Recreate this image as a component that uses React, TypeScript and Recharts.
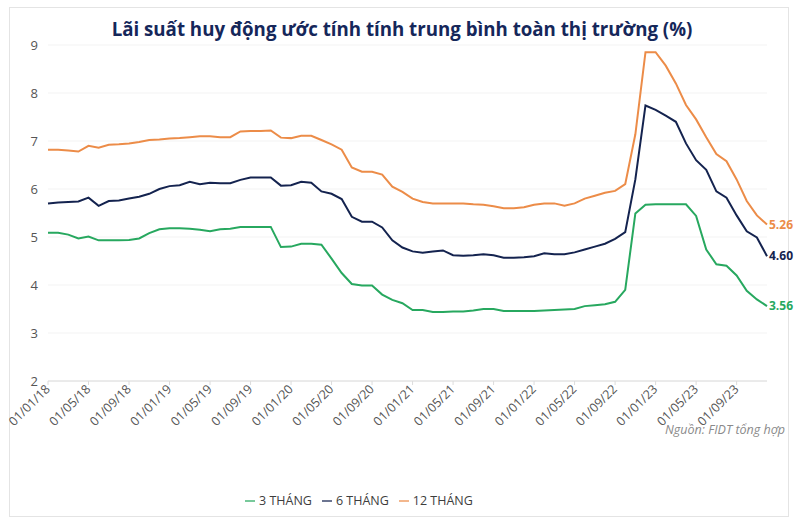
import { LineChart, Line, XAxis, YAxis, CartesianGrid, Legend, LabelList } from 'recharts'

// tháng đầu kỳ, 01/01/18 -> 01/12/23
const MONTHS = [
  '01/01/18', '01/02/18', '01/03/18', '01/04/18', '01/05/18', '01/06/18', '01/07/18', '01/08/18', '01/09/18', '01/10/18', '01/11/18', '01/12/18',
  '01/01/19', '01/02/19', '01/03/19', '01/04/19', '01/05/19', '01/06/19', '01/07/19', '01/08/19', '01/09/19', '01/10/19', '01/11/19', '01/12/19',
  '01/01/20', '01/02/20', '01/03/20', '01/04/20', '01/05/20', '01/06/20', '01/07/20', '01/08/20', '01/09/20', '01/10/20', '01/11/20', '01/12/20',
  '01/01/21', '01/02/21', '01/03/21', '01/04/21', '01/05/21', '01/06/21', '01/07/21', '01/08/21', '01/09/21', '01/10/21', '01/11/21', '01/12/21',
  '01/01/22', '01/02/22', '01/03/22', '01/04/22', '01/05/22', '01/06/22', '01/07/22', '01/08/22', '01/09/22', '01/10/22', '01/11/22', '01/12/22',
  '01/01/23', '01/02/23', '01/03/23', '01/04/23', '01/05/23', '01/06/23', '01/07/23', '01/08/23', '01/09/23', '01/10/23', '01/11/23', '01/12/23',
]

const RATE_3M = [
  5.09, 5.09, 5.05, 4.97, 5.01, 4.93, 4.93, 4.93, 4.94, 4.97, 5.08, 5.16,
  5.18, 5.18, 5.17, 5.15, 5.12, 5.16, 5.17, 5.21, 5.21, 5.21, 5.21, 4.79,
  4.80, 4.86, 4.86, 4.84, 4.55, 4.25, 4.02, 3.99, 3.99, 3.80, 3.69, 3.62,
  3.48, 3.48, 3.44, 3.44, 3.45, 3.45, 3.47, 3.50, 3.50, 3.46, 3.46, 3.46,
  3.46, 3.47, 3.48, 3.49, 3.50, 3.56, 3.58, 3.60, 3.65, 3.90, 5.49, 5.67,
  5.68, 5.68, 5.68, 5.68, 5.44, 4.74, 4.43, 4.40, 4.20, 3.88, 3.70, 3.56,
]

const RATE_6M = [
  5.70, 5.72, 5.73, 5.74, 5.82, 5.65, 5.75, 5.76, 5.80, 5.84, 5.90, 6.00,
  6.06, 6.08, 6.15, 6.10, 6.13, 6.12, 6.12, 6.19, 6.24, 6.24, 6.24, 6.07,
  6.08, 6.15, 6.13, 5.95, 5.90, 5.79, 5.42, 5.32, 5.32, 5.20, 4.93, 4.78,
  4.70, 4.67, 4.70, 4.72, 4.62, 4.61, 4.62, 4.64, 4.62, 4.57, 4.57, 4.58,
  4.60, 4.66, 4.64, 4.64, 4.68, 4.74, 4.80, 4.86, 4.96, 5.10, 6.20, 7.74,
  7.65, 7.53, 7.40, 6.95, 6.60, 6.40, 5.95, 5.82, 5.45, 5.12, 4.99, 4.60,
]

const RATE_12M = [
  6.82, 6.82, 6.80, 6.78, 6.90, 6.86, 6.92, 6.93, 6.95, 6.98, 7.02, 7.03,
  7.05, 7.06, 7.08, 7.10, 7.10, 7.08, 7.08, 7.20, 7.21, 7.21, 7.22, 7.07,
  7.06, 7.11, 7.11, 7.02, 6.93, 6.82, 6.45, 6.36, 6.36, 6.30, 6.05, 5.94,
  5.80, 5.73, 5.70, 5.70, 5.70, 5.70, 5.68, 5.67, 5.64, 5.60, 5.60, 5.62,
  5.67, 5.70, 5.70, 5.65, 5.70, 5.80, 5.86, 5.92, 5.96, 6.10, 7.14, 8.85,
  8.85, 8.57, 8.20, 7.75, 7.45, 7.08, 6.73, 6.58, 6.20, 5.75, 5.45, 5.26,
]

const Y_TICKS = [2, 3, 4, 5, 6, 7, 8, 9]
const SERIES_ORDER = ['m3', 'm6', 'm12']

const GREEN = '#27A85F'
const NAVY = '#14234F'
const ORANGE = '#EC8C48'
const FONT = '"Open Sans", Arial, sans-serif'

const data = MONTHS.map((month, i) => ({
  month,
  m3: RATE_3M[i],
  m6: RATE_6M[i],
  m12: RATE_12M[i],
}))

const LAST = MONTHS.length - 1

function endLabel(color: string) {
  return (props: any) => {
    const { x, y, index, value } = props
    if (index !== LAST) return null
    return (
      <text x={x + 2} y={y + 4} fill={color} fontSize={12} fontWeight={700} fontFamily={FONT}>
        {Number(value).toFixed(2)}
      </text>
    )
  }
}

function DateTick({ x, y, payload }: any) {
  return (
    <text
      x={x}
      y={y}
      transform={`rotate(-45, ${x}, ${y})`}
      textAnchor="end"
      dy={4}
      fill="#555"
      fontSize={12.5}
      fontFamily={FONT}
    >
      {payload.value}
    </text>
  )
}

export default function App() {
  return (
    <div style={{ position: 'relative', width: 800, height: 531, background: '#fff', fontFamily: FONT }}>
      <style>{'body{margin:0}'}</style>
      <div
        style={{
          position: 'absolute', left: 9, top: 7, width: 780, height: 510,
          border: '1px solid #e4e4e4', boxSizing: 'border-box',
        }}
      />
      <div
        style={{
          position: 'absolute', left: 0, top: 17, width: 804, textAlign: 'center',
          fontSize: 18.7, fontWeight: 700, color: '#15275A', lineHeight: '24px',
        }}
      >
        Lãi suất huy động ước tính tính trung bình toàn thị trường (%)
      </div>
      <div
        style={{
          position: 'absolute', right: 15, top: 421, fontSize: 12.5,
          fontStyle: 'italic', color: '#8a8a8a',
        }}
      >
        Nguồn: FIDT tổng hợp
      </div>

      <div style={{ position: 'absolute', left: 0, top: 0 }}>
        <LineChart width={800} height={531} data={data} margin={{ top: 45, right: 33, left: 8, bottom: 90 }}>
          <CartesianGrid vertical={false} stroke="#f3f3f3" />
          <XAxis
            dataKey="month"
            interval={3}
            tick={<DateTick />}
            tickSize={4}
            tickLine={{ stroke: '#dcdcdc' }}
            axisLine={{ stroke: '#dcdcdc' }}
            height={60}
          />
          <YAxis
            domain={[2, 9]}
            ticks={Y_TICKS}
            width={40}
            axisLine={false}
            tickLine={false}
            tickMargin={4}
            tick={{ fill: '#555', fontSize: 13, fontFamily: FONT }}
          />
          <Legend
            layout="horizontal"
            verticalAlign="middle"
            align="center"
            iconType="plainline"
            iconSize={10}
            itemSorter={(item: any) => SERIES_ORDER.indexOf(item.dataKey)}
            wrapperStyle={{ top: 488, left: 245, width: 'auto' }}
            formatter={(value: string) => (
              <span style={{ color: '#3d3d3d', fontSize: 12.5, fontFamily: FONT }}>{value}</span>
            )}
          />
          <Line type="linear" dataKey="m3" name="3 THÁNG" stroke={GREEN} strokeWidth={2} dot={false} isAnimationActive={false}>
            <LabelList dataKey="m3" content={endLabel(GREEN)} />
          </Line>
          <Line type="linear" dataKey="m6" name="6 THÁNG" stroke={NAVY} strokeWidth={2} dot={false} isAnimationActive={false}>
            <LabelList dataKey="m6" content={endLabel(NAVY)} />
          </Line>
          <Line type="linear" dataKey="m12" name="12 THÁNG" stroke={ORANGE} strokeWidth={2} dot={false} isAnimationActive={false}>
            <LabelList dataKey="m12" content={endLabel(ORANGE)} />
          </Line>
        </LineChart>
      </div>
    </div>
  )
}
